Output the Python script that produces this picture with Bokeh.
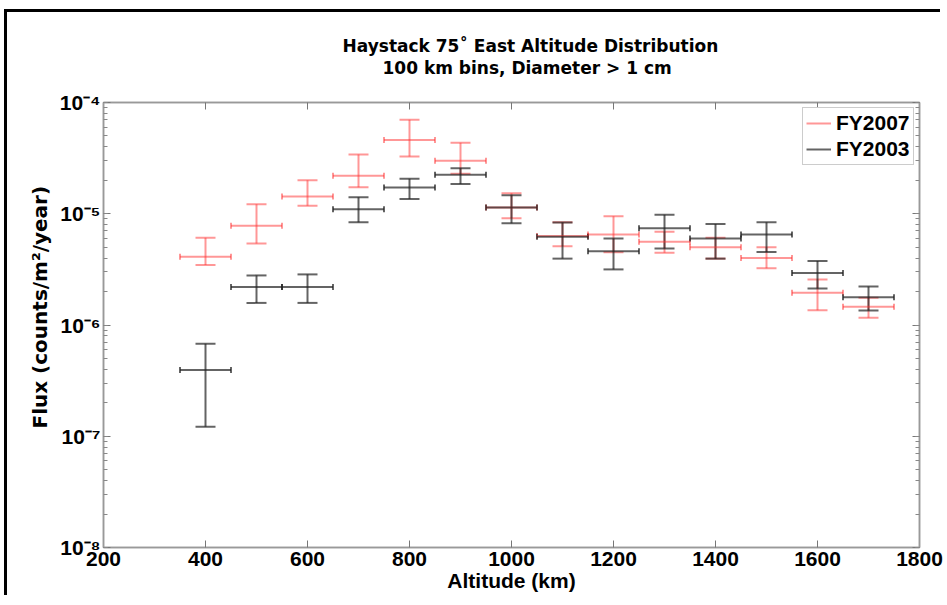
from bokeh.plotting import figure
from bokeh.models import (Whisker, TeeHead, LinearAxis, LogAxis, LogTicker, FixedTicker,
                          CustomJSTickFormatter, Legend, LegendItem, Title, ColumnDataSource)
from bokeh.embed import file_html
from bokeh.resources import INLINE

# ---- data ----
altitude = [400, 500, 600, 700, 800, 900, 1000, 1100, 1200, 1300, 1400, 1500, 1600, 1700]
bin_width = 100

fy2007 = [4.1e-6, 7.8e-6, 1.43e-5, 2.2e-5, 4.6e-5, 3.0e-5, 1.14e-5, 6.3e-6, 6.5e-6, 5.6e-6, 5.0e-6, 4.0e-6, 1.95e-6, 1.46e-6]
fy2007_upper = [6.1e-6, 1.22e-5, 2.0e-5, 3.4e-5, 7.0e-5, 4.35e-5, 1.53e-5, 8.4e-6, 9.5e-6, 6.9e-6, 6.1e-6, 5.0e-6, 2.57e-6, 1.76e-6]
fy2007_lower = [3.46e-6, 5.4e-6, 1.18e-5, 1.73e-5, 3.27e-5, 2.29e-5, 9.1e-6, 5.1e-6, 4.5e-6, 4.45e-6, 3.95e-6, 3.24e-6, 1.36e-6, 1.16e-6]

fy2003 = [3.95e-7, 2.2e-6, 2.2e-6, 1.1e-5, 1.72e-5, 2.24e-5, 1.14e-5, 6.2e-6, 4.6e-6, 7.4e-6, 6.0e-6, 6.5e-6, 2.94e-6, 1.78e-6]
fy2003_upper = [6.8e-7, 2.79e-6, 2.85e-6, 1.41e-5, 2.06e-5, 2.57e-5, 1.47e-5, 8.35e-6, 6.0e-6, 9.8e-6, 8.1e-6, 8.4e-6, 3.77e-6, 2.22e-6]
fy2003_lower = [1.22e-7, 1.58e-6, 1.58e-6, 8.4e-6, 1.36e-5, 1.85e-5, 8.2e-6, 3.95e-6, 3.16e-6, 4.86e-6, 3.95e-6, 4.54e-6, 2.13e-6, 1.35e-6]

x_ticks = [200, 400, 600, 800, 1000, 1200, 1400, 1600, 1800]
title_lines = ["Haystack 75\u02da East Altitude Distribution", "100 km bins, Diameter > 1 cm"]
x_label = "Altitude (km)"
y_label = "Flux (counts/m\u00b2/year)"

FONT = "Liberation Sans"
TFONT = "DejaVu Sans"

p = figure(width=936, height=586, x_range=(200, 1800), y_range=(1e-8, 1e-4),
           y_axis_type="log", output_backend="svg", toolbar_location=None,
           min_border_left=96, min_border_right=24, min_border_top=90, min_border_bottom=51)
p.styles = {"border": "none", "box-shadow": "-3px -3px 0 0 black",
            "margin-left": "7px", "margin-top": "12px", "background-color": "white"}
p.background_fill_color = "white"
p.border_fill_color = "white"
p.grid.visible = False
p.outline_line_color = "#999999"
p.outline_line_width = 1.5
p.title = None

bottom_axis = p.below[0]
left_axis = p.left[0]

bottom_axis.ticker = FixedTicker(ticks=x_ticks)
left_axis.ticker = LogTicker(num_minor_ticks=10)
left_axis.formatter = CustomJSTickFormatter(code="""
const sup = {'-':'\u207b','0':'\u2070','1':'\u00b9','2':'\u00b2','3':'\u00b3','4':'\u2074','5':'\u2075','6':'\u2076','7':'\u2077','8':'\u2078','9':'\u2079'};
const e = Math.round(Math.log10(tick));
return '10' + String(e).split('').map(c => sup[c]).join('');
""")
bottom_axis.axis_label = x_label

empty = CustomJSTickFormatter(code="return ''")
top_axis = LinearAxis(ticker=FixedTicker(ticks=x_ticks), formatter=empty)
right_axis = LogAxis(ticker=LogTicker(num_minor_ticks=10), formatter=empty)
p.add_layout(top_axis, "above")
p.add_layout(right_axis, "right")

for ax in [bottom_axis, left_axis, top_axis, right_axis]:
    ax.axis_line_color = "#999999"
    ax.axis_line_width = 1.5
    ax.major_tick_line_color = "#777777"
    ax.minor_tick_line_color = "#888888"
    ax.major_tick_in = 7
    ax.major_tick_out = 0
    ax.minor_tick_in = 4
    ax.minor_tick_out = 0
    ax.major_label_text_font = FONT
    ax.major_label_text_font_style = "bold"
    ax.major_label_text_font_size = "21px"
    ax.major_label_text_color = "black"
    ax.axis_label_text_font = FONT
    ax.axis_label_text_font_style = "bold"
    ax.axis_label_text_font_size = "21px"
    ax.axis_label_text_color = "black"
bottom_axis.minor_tick_line_color = None
top_axis.minor_tick_line_color = None
top_axis.major_label_standoff = 0
right_axis.major_label_standoff = 0
bottom_axis.major_label_standoff = 4
bottom_axis.axis_label_standoff = 0
left_axis.major_label_standoff = 3

# invisible spacer between frame and titles
spacer = LinearAxis(ticker=FixedTicker(ticks=x_ticks), formatter=empty,
                    axis_line_color=None, major_tick_line_color=None, minor_tick_line_color=None,
                    major_tick_in=0, major_tick_out=25, minor_tick_out=0, major_label_standoff=0)
p.add_layout(spacer, "above")

# y-axis label as a left-side title so it can sit where the reference puts it
p.add_layout(Title(text=y_label, align="left", offset=119, text_font=TFONT,
                   text_font_style="bold", text_font_size="20px", text_color="black",
                   standoff=10), "left")

# titles (first added = closest to frame)
p.add_layout(Title(text=title_lines[1], align="left", offset=279, text_font=TFONT,
                   text_font_style="bold", text_font_size="17px", text_color="black",
                   standoff=0), "above")
p.add_layout(Title(text=title_lines[0], align="left", offset=239, text_font=TFONT,
                   text_font_style="bold", text_font_size="17px", text_color="black",
                   standoff=0), "above")


def draw(vals, upper, lower, color, alpha, width):
    left = [a - bin_width / 2 for a in altitude]
    right = [a + bin_width / 2 for a in altitude]
    src = ColumnDataSource(dict(x=altitude, y=vals, up=upper, lo=lower, left=left, right=right))
    hbar = p.segment(x0="left", y0="y", x1="right", y1="y", source=src,
                     line_color=color, line_alpha=alpha, line_width=width)
    p.add_layout(Whisker(source=src, base="y", lower="left", upper="right", dimension="width",
                         line_alpha=0,
                         lower_head=TeeHead(size=6, line_color=color, line_alpha=alpha, line_width=width),
                         upper_head=TeeHead(size=6, line_color=color, line_alpha=alpha, line_width=width)))
    p.add_layout(Whisker(source=src, base="x", lower="lo", upper="up", dimension="height",
                         line_color=color, line_alpha=alpha, line_width=width,
                         lower_head=TeeHead(size=20, line_color=color, line_alpha=alpha, line_width=width),
                         upper_head=TeeHead(size=20, line_color=color, line_alpha=alpha, line_width=width)))
    return hbar

r07 = draw(fy2007, fy2007_upper, fy2007_lower, "#ff3030", 0.5, 2)
r03 = draw(fy2003, fy2003_upper, fy2003_lower, "#222222", 0.7, 2)

legend = Legend(items=[LegendItem(label="FY2007", renderers=[r07]),
                       LegendItem(label="FY2003", renderers=[r03])],
                location=(699, 382), border_line_color="#999999", border_line_width=1,
                label_text_font=FONT, label_text_font_style="bold", label_text_font_size="21px",
                label_text_color="black", glyph_width=25, glyph_height=20, label_height=20,
                spacing=2, padding=3, margin=0, label_standoff=5, background_fill_alpha=1)
p.add_layout(legend, "center")

open("out.html", "w").write(file_html(p, INLINE))
